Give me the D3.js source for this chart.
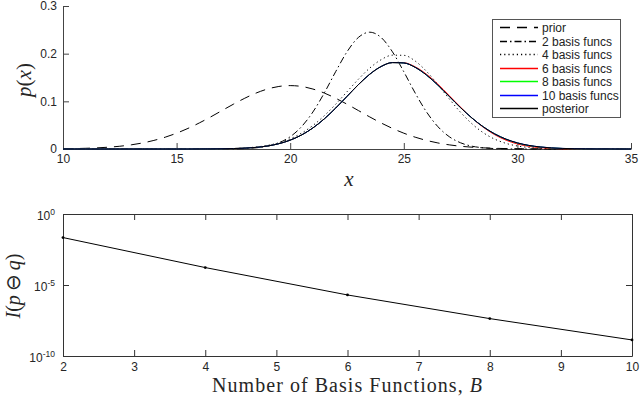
<!DOCTYPE html>
<html>
<head>
<meta charset="utf-8">
<script src="https://cdn.jsdelivr.net/npm/d3@7"></script>
<style>
body { margin: 0; background: #fff; }
svg text { font-family: "Liberation Sans", Arial, sans-serif; }
.tick text { font-size: 12px; fill: #262626; }
.lbl { font-family: "Liberation Serif", "Times New Roman", serif; fill: #262626; }
</style>
</head>
<body>
<svg id="chart" width="640" height="399"></svg>
<script>

// top panel: densities on a 0.5 grid
let xs = [10,10.5,11,11.5,12,12.5,13,13.5,14,14.5,15,15.5,16,16.5,17,17.5,18,18.5,19,19.5,20,20.5,21,21.5,22,22.5,23,23.5,24,24.5,25,25.5,26,26.5,27,27.5,28,28.5,29,29.5,30,30.5,31,31.5,32,32.5,33,33.5,34,34.5,35]

let prior = [0.0005,0.0009,0.0015,0.0024,0.0038,0.0058,0.0087,0.0127,0.0180,0.0248,0.0332,0.0432,0.0547,0.0673,0.0807,0.0940,0.1065,0.1174,0.1258,0.1312,0.1330,0.1312,0.1258,0.1174,0.1065,0.0940,0.0807,0.0673,0.0547,0.0432,0.0332,0.0248,0.0180,0.0127,0.0087,0.0058,0.0038,0.0024,0.0015,0.0009,0.0005,0.0003,0.0002,0.0001,0.0001,0,0,0,0,0,0]

let basis2 = [0,0,0,0,0,0,0,0,0,0,0,0,0,0,0.0001,0.0003,0.0009,0.0025,0.0059,0.0130,0.0258,0.0469,0.0777,0.1175,0.1621,0.2039,0.2340,0.2450,0.2340,0.2039,0.1621,0.1175,0.0777,0.0469,0.0258,0.0130,0.0059,0.0025,0.0009,0.0003,0.0001,0,0,0,0,0,0,0,0,0,0]

let basis4 = [0,0,0,0,0,0,0,0,0,0,0,0,0.0001,0.0002,0.0005,0.0011,0.0022,0.0042,0.0076,0.0130,0.0213,0.0333,0.0494,0.0698,0.0938,0.1201,0.1463,0.1697,0.1873,0.1968,0.1965,0.1846,0.1629,0.1350,0.1052,0.0769,0.0529,0.0341,0.0207,0.0118,0.0063,0.0032,0.0015,0.0007,0.0003,0.0001,0,0,0,0,0]

let basis6 = [0,0,0,0,0,0,0,0,0,0,0,0,0.0001,0.0002,0.0004,0.0009,0.0018,0.0034,0.0063,0.0111,0.0186,0.0294,0.0442,0.0632,0.0857,0.1104,0.1350,0.1568,0.1730,0.1813,0.1810,0.1725,0.1568,0.1360,0.1120,0.0876,0.0650,0.0455,0.0300,0.0185,0.0106,0.0056,0.0028,0.0013,0.0005,0.0002,0.0001,0,0,0,0]

let basis8 = [0,0,0,0,0,0,0,0,0,0,0,0,0.0001,0.0002,0.0004,0.0009,0.0018,0.0034,0.0063,0.0111,0.0186,0.0294,0.0442,0.0632,0.0857,0.1104,0.1350,0.1568,0.1730,0.1813,0.1805,0.1713,0.1551,0.1340,0.1104,0.0867,0.0650,0.0465,0.0317,0.0206,0.0125,0.0073,0.0041,0.0021,0.0011,0.0005,0.0002,0.0001,0,0,0]

let basis10 = [0,0,0,0,0,0,0,0,0,0,0,0,0.0001,0.0002,0.0004,0.0009,0.0018,0.0034,0.0063,0.0111,0.0186,0.0294,0.0442,0.0632,0.0857,0.1104,0.1350,0.1568,0.1730,0.1813,0.1805,0.1713,0.1551,0.1340,0.1104,0.0867,0.0650,0.0465,0.0317,0.0206,0.0128,0.0076,0.0043,0.0023,0.0012,0.0006,0.0003,0.0001,0.0001,0,0]

let posterior = [0,0,0,0,0,0,0,0,0,0,0,0,0.0001,0.0002,0.0004,0.0009,0.0018,0.0034,0.0063,0.0111,0.0186,0.0294,0.0442,0.0632,0.0857,0.1104,0.1350,0.1568,0.1730,0.1813,0.1805,0.1713,0.1551,0.1340,0.1104,0.0867,0.0650,0.0465,0.0317,0.0206,0.0128,0.0076,0.0043,0.0023,0.0012,0.0006,0.0003,0.0001,0.0001,0,0]

let seriesNames = ["prior", "2 basis funcs", "4 basis funcs", "6 basis funcs", "8 basis funcs", "10 basis funcs", "posterior"]
let topXTicks = [10, 15, 20, 25, 30, 35]
let topYTicks = [0, 0.1, 0.2, 0.3]

// bottom panel: information loss vs number of basis functions
let nBasis = [2, 4, 6, 8, 10]
let infoLoss = [0.0219, 1.69e-4, 1.99e-6, 4.3e-8, 1.35e-9]
let bottomXTicks = [2, 3, 4, 5, 6, 7, 8, 9, 10]
let bottomYTicks = [1, 1e-5, 1e-10]
let bottomYExps = ["0", "-5", "-10"]

// styles
let seriesColors = ["#000", "#000", "#000", "#ff0000", "#00ff00", "#0000ff", "#000"]
let seriesDash = ["10,7", "7,3,1.5,3", "1.2,3", null, null, null, null]

let svg = d3.select("#chart")

// ---------- top panel ----------
let x1 = d3.scaleLinear().domain([10, 35]).range([63, 631])
let y1 = d3.scaleLinear().domain([0, 0.3]).range([149, 6])

let series = [prior, basis2, basis4, basis6, basis8, basis10, posterior].map((vals, i) => {
    return {name: seriesNames[i], color: seriesColors[i], dash: seriesDash[i],
        points: xs.map((x, j) => [x, vals[j]])}
})

svg.append("g")
    .attr("transform", "translate(0,149)")
    .call(d3.axisBottom(x1).tickValues(topXTicks).tickSizeInner(-6).tickSizeOuter(0).tickPadding(5))
    .call(g => g.select(".domain").attr("stroke", "#444"))
    .call(g => g.selectAll(".tick line").attr("stroke", "#444"))

svg.append("g")
    .attr("transform", "translate(63,0)")
    .call(d3.axisLeft(y1).tickValues(topYTicks).tickFormat(d => d == 0 ? "0" : d3.format(".1f")(d))
        .tickSizeInner(-6).tickSizeOuter(0).tickPadding(6))
    .call(g => g.select(".domain").attr("stroke", "#444"))
    .call(g => g.selectAll(".tick line").attr("stroke", "#444"))

let line1 = d3.line()
    .x(d => x1(d[0]))
    .y(d => y1(d[1]))
    .curve(d3.curveMonotoneX)

svg.append("g").selectAll("path")
    .data(series)
    .enter()
    .append("path")
    .attr("d", d => line1(d.points))
    .attr("fill", "none")
    .attr("stroke", d => d.color)
    .attr("stroke-width", 1)
    .attr("stroke-dasharray", d => d.dash)

// legend
let legend = svg.append("g")
legend.append("rect")
    .attr("x", 492.5).attr("y", 19.5)
    .attr("width", 128).attr("height", 98)
    .attr("fill", "#fff")
    .attr("stroke", "#555")

let items = legend.selectAll(".item")
    .data(series)
    .enter()
    .append("g")
    .attr("class", "item")
    .attr("transform", (d, i) => "translate(0," + (Math.round(27 + i * 13.5) + 0.5) + ")")

items.append("line")
    .attr("x1", 500).attr("x2", 538)
    .attr("stroke", d => d.color)
    .attr("stroke-width", 1.5)
    .attr("stroke-dasharray", d => d.dash)

items.append("text")
    .attr("x", 542)
    .attr("dy", "0.35em")
    .style("font-size", "12px")
    .attr("fill", "#222")
    .text(d => d.name)

// axis labels
svg.append("text")
    .attr("class", "lbl")
    .attr("transform", "translate(31,80) rotate(-90)")
    .attr("text-anchor", "middle")
    .style("font-size", "21px")
    .html("<tspan font-style='italic'>p</tspan>(<tspan font-style='italic'>x</tspan>)")

svg.append("text")
    .attr("class", "lbl")
    .attr("x", 349).attr("y", 186)
    .attr("text-anchor", "middle")
    .style("font-size", "21px")
    .style("font-style", "italic")
    .text("x")

// ---------- bottom panel ----------
let x2 = d3.scaleLinear().domain([2, 10]).range([63, 632])
let y2 = d3.scaleLog().domain([1e-10, 1]).range([356, 214])

svg.append("g")
    .attr("transform", "translate(0,356)")
    .call(d3.axisBottom(x2).tickValues(bottomXTicks).tickFormat(d3.format("d"))
        .tickSizeInner(-6).tickSizeOuter(0).tickPadding(6))
    .call(g => g.select(".domain").attr("stroke", "#333"))
    .call(g => g.selectAll(".tick line").attr("stroke", "#333"))

svg.append("g")
    .attr("transform", "translate(0,214)")
    .call(d3.axisTop(x2).tickValues(bottomXTicks).tickFormat("")
        .tickSizeInner(-6).tickSizeOuter(0))
    .call(g => g.select(".domain").attr("stroke", "#333"))
    .call(g => g.selectAll(".tick line").attr("stroke", "#333"))

let gy2 = svg.append("g")
    .attr("transform", "translate(63,0)")
    .call(d3.axisLeft(y2).tickValues(bottomYTicks).tickFormat(() => "10")
        .tickSizeInner(-6).tickSizeOuter(0).tickPadding(8))
    .call(g => g.select(".domain").attr("stroke", "#333"))
    .call(g => g.selectAll(".tick line").attr("stroke", "#333"))

gy2.selectAll(".tick text")
    .attr("dy", "0.45em")
    .each(function(d, i) {
        d3.select(this).append("tspan")
            .attr("dy", "-0.55em")
            .style("font-size", "8.5px")
            .text(bottomYExps[i])
    })

svg.append("g")
    .attr("transform", "translate(632,0)")
    .call(d3.axisRight(y2).tickValues(bottomYTicks).tickFormat("")
        .tickSizeInner(-6).tickSizeOuter(0))
    .call(g => g.select(".domain").attr("stroke", "#333"))
    .call(g => g.selectAll(".tick line").attr("stroke", "#333"))

let line2 = d3.line()
    .x((d, i) => x2(nBasis[i]))
    .y(d => y2(d))

svg.append("path")
    .attr("d", line2(infoLoss))
    .attr("fill", "none")
    .attr("stroke", "#000")
    .attr("stroke-width", 1)

svg.append("g").selectAll("circle")
    .data(infoLoss)
    .enter()
    .append("circle")
    .attr("cx", (d, i) => x2(nBasis[i]))
    .attr("cy", d => y2(d))
    .attr("r", 1.4)
    .attr("fill", "#000")

svg.append("text")
    .attr("class", "lbl")
    .attr("transform", "translate(20,286) rotate(-90)")
    .attr("text-anchor", "middle")
    .style("font-size", "20px")
    .html("<tspan font-style='italic'>I</tspan>(<tspan font-style='italic'>p</tspan>\u2009\u2296\u2009<tspan font-style='italic'>q</tspan>)")

svg.append("text")
    .attr("class", "lbl")
    .attr("x", 347).attr("y", 392)
    .attr("text-anchor", "middle")
    .style("font-size", "20px")
    .attr("textLength", 270)
    .html("Number of Basis Functions, <tspan font-style='italic'>B</tspan>")

</script>
</body>
</html>
